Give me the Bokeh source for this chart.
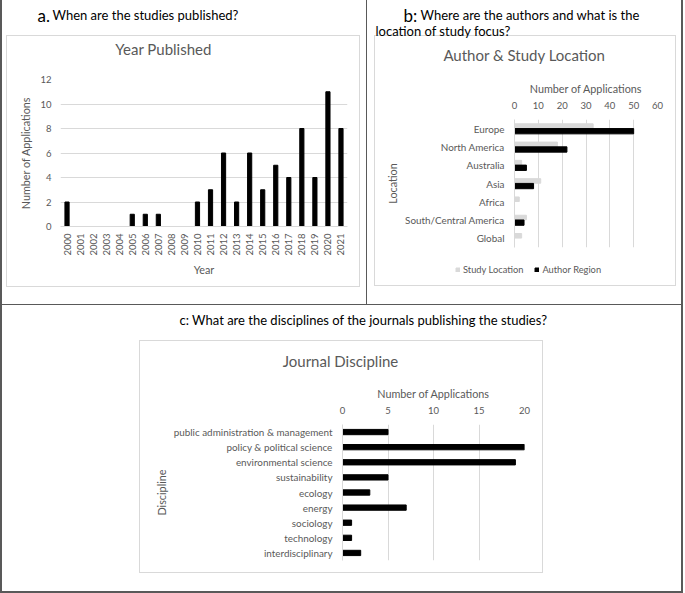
import math
from bokeh.plotting import figure
from bokeh.models import (FactorRange, Range1d, Legend, LegendItem,
                          SingleIntervalTicker, ColumnDataSource)
from bokeh.transform import dodge
from bokeh.layouts import column, row
from bokeh.core.properties import value
from bokeh.embed import file_html
from bokeh.resources import INLINE

# ---------------- data ----------------
years = ["2000", "2001", "2002", "2003", "2004", "2005", "2006", "2007", "2008", "2009", "2010",
         "2011", "2012", "2013", "2014", "2015", "2016", "2017", "2018", "2019", "2020", "2021"]
year_counts = [2, 0, 0, 0, 0, 1, 1, 1, 0, 0, 2, 3, 6, 2, 6, 3, 5, 4, 8, 4, 11, 8]

locations = ["Europe", "North America", "Australia", "Asia", "Africa",
             "South/Central America", "Global"]
study_location = [33, 18, 3, 11, 2, 5, 3]
author_region = [50, 22, 5, 8, 0, 4, 0]

disciplines = ["public administration & management", "policy & political science",
               "environmental science", "sustainability", "ecology", "energy",
               "sociology", "technology", "interdisciplinary"]
discipline_counts = [5, 20, 19, 5, 3, 7, 1, 1, 2]

# ---------------- style ----------------
FONT = "Lato"
GRAY = "#595959"
GRID = "#d9d9d9"
BORDER = "#595959"
TICK_FS = "9.5px"
CAT_FS = "9.9px"
AXT_FS = "10.8px"
TITLE_FS = "15px"
HEAD_FS = "13px"
BIG_FS = "17px"


def header_fig(w, h):
    p = figure(width=w, height=h, x_range=Range1d(0, w), y_range=Range1d(h, 0),
               x_axis_type=None, y_axis_type=None, output_backend="svg",
               toolbar_location=None, min_border=0, frame_align=False)
    p.outline_line_color = None
    p.border_fill_color = None
    p.background_fill_color = None
    p.title.text = ""
    return p


def htext(p, x, y, text, size, color="black", align="left", baseline="alphabetic"):
    p.text(x=[x], y=[y], text=[text], text_font=value(FONT), text_font_size=value(size),
           text_color=color, text_align=align, text_baseline=baseline)


def base_style(p):
    p.outline_line_color = None
    p.background_fill_color = None
    p.border_fill_color = None
    for ax in p.axis:
        ax.major_tick_line_color = None
        ax.minor_tick_line_color = None
        ax.major_tick_out = 0
        ax.major_tick_in = 0
        ax.minor_tick_out = 0
        ax.minor_tick_in = 0
        ax.major_label_text_font = FONT
        ax.major_label_text_font_size = TICK_FS
        ax.major_label_text_color = GRAY
        ax.axis_label_text_font = FONT
        ax.axis_label_text_font_size = AXT_FS
        ax.axis_label_text_font_style = "normal"
        ax.axis_label_text_color = GRAY


# ---------------- panel a ----------------
WA = 368
ha = header_fig(WA, 67)
htext(ha, 37, 15, "a.", BIG_FS)
htext(ha, 52, 14.5, "When are the studies published?", HEAD_FS)
htext(ha, 163, 48, "Year Published", TITLE_FS, GRAY, "center", "middle")

HA = 238
pa = figure(width=WA, height=HA, x_range=FactorRange(*years), y_range=Range1d(0, 12),
            output_backend="svg", toolbar_location=None, frame_align=False,
            min_border_left=60, min_border_right=WA - 347, min_border_top=12, min_border_bottom=79)
pa.vbar(x=years, top=year_counts, width=0.32, color="black")
base_style(pa)
pa.yaxis.ticker = SingleIntervalTicker(interval=2)
pa.yaxis.axis_line_color = None
pa.yaxis.axis_label = "Number of Applications"
pa.yaxis.major_label_standoff = 9
pa.yaxis.axis_label_standoff = 5
pa.xaxis.axis_line_color = GRID
pa.xaxis.major_label_orientation = math.pi / 2
pa.xaxis.major_label_standoff = 7
pa.xaxis.axis_label = "Year"
pa.xaxis.axis_label_standoff = 4
pa.xgrid.grid_line_color = None
pa.ygrid.grid_line_color = GRID

# ---------------- panel b ----------------
WB = 317
hb = header_fig(WB, 72)
htext(hb, 35, 15, "b:", BIG_FS)
htext(hb, 52, 14.5, "Where are the authors and what is the", HEAD_FS)
htext(hb, 7, 30.7, "location of study focus?", HEAD_FS)
htext(hb, 156, 54, "Author & Study Location", TITLE_FS, GRAY, "center", "middle")

HB = 183
pb = figure(width=WB, height=HB, y_range=FactorRange(*locations[::-1]), x_range=Range1d(0, 60),
            x_axis_location="above", output_backend="svg", toolbar_location=None, frame_align=False,
            min_border_left=146, min_border_right=WB - 289, min_border_top=47, min_border_bottom=8)
pb.hbar(y=dodge("loc", 0.14, range=pb.y_range), right="study", height=0.25,
        color=GRID, source=ColumnDataSource(dict(loc=locations, study=study_location)))
pb.hbar(y=dodge("loc", -0.14, range=pb.y_range), right="auth", height=0.29,
        color="black", source=ColumnDataSource(dict(loc=locations, auth=author_region)))
base_style(pb)
pb.xaxis.ticker = SingleIntervalTicker(interval=10)
pb.xaxis.axis_line_color = None
pb.xaxis.axis_label = "Number of Applications"
pb.xaxis.major_label_standoff = 11
pb.xaxis.axis_label_standoff = 4
pb.yaxis.axis_line_color = GRID
pb.yaxis.axis_label = "Location"
pb.yaxis.major_label_standoff = 10
pb.yaxis.axis_label_standoff = 3
pb.yaxis.major_label_text_font_size = CAT_FS
pb.ygrid.grid_line_color = None
pb.xgrid.grid_line_color = GRID

# legend strip for panel b (legend swatches use proxy renderers without visible data)
HL = 50
lf = figure(width=WB, height=HL, x_range=Range1d(0, WB), y_range=Range1d(0, HL),
            x_axis_type=None, y_axis_type=None, output_backend="svg",
            toolbar_location=None, min_border=0, frame_align=False)
lf.outline_line_color = None
lf.border_fill_color = None
lf.background_fill_color = None
lf.title.text = ""
nan = float("nan")
g_study = lf.rect(x=[nan], y=[nan], width=1, height=1, fill_color=GRID, line_color=GRID)
g_auth = lf.rect(x=[nan], y=[nan], width=1, height=1, fill_color="black", line_color="black")
legend = Legend(items=[LegendItem(label="Study Location", renderers=[g_study]),
                       LegendItem(label="Author Region", renderers=[g_auth])],
                location=(87, 30), orientation="horizontal", padding=0, margin=0,
                spacing=11, glyph_width=5, glyph_height=5, label_standoff=3,
                label_text_font=FONT, label_text_font_size="9.3px", label_text_color=GRAY,
                border_line_color=None, background_fill_alpha=0, label_height=12)
lf.add_layout(legend, "center")

# ---------------- panel c ----------------
WC = 685
hc = header_fig(WC, 67)
htext(hc, 179, 14.3, "c: What are the disciplines of the journals publishing the studies?", HEAD_FS)
htext(hc, 340, 55, "Journal Discipline", TITLE_FS, GRAY, "center", "middle")

HC = 221
pc = figure(width=WC, height=HC, y_range=FactorRange(*disciplines[::-1]), x_range=Range1d(0, 20),
            x_axis_location="above", output_backend="svg", toolbar_location=None, frame_align=False,
            min_border_left=342, min_border_right=WC - 524, min_border_top=52, min_border_bottom=33)
pc.hbar(y=disciplines, right=discipline_counts, height=0.35, color="black")
base_style(pc)
pc.xaxis.ticker = SingleIntervalTicker(interval=5)
pc.xaxis.axis_line_color = None
pc.xaxis.axis_label = "Number of Applications"
pc.xaxis.major_label_standoff = 11
pc.xaxis.axis_label_standoff = 4
pc.yaxis.axis_line_color = GRID
pc.yaxis.axis_label = "Discipline"
pc.yaxis.major_label_standoff = 10
pc.yaxis.axis_label_standoff = 3
pc.yaxis.major_label_text_font_size = CAT_FS
pc.ygrid.grid_line_color = None
pc.xgrid.grid_line_color = GRID

# ---------------- frame lines (page background) ----------------
# (left, top, width, height, colour) in page pixels
rects = [
    (0, 0, 2, 593, BORDER),        # outer left
    (366, 0, 1, 305, BORDER),      # divider a|b
    (0, 304, 683, 1, BORDER),      # divider top|bottom
    (681, 0, 2, 593, BORDER),      # outer right
    (0, 591, 683, 2, BORDER),      # outer bottom
]
for (l, t, r, b) in [(6, 35, 360, 287), (374, 35, 676, 286), (139, 340, 543, 573)]:
    rects += [(l, t, r - l, 1, GRID), (l, b - 1, r - l, 1, GRID),
              (l, t, 1, b - t, GRID), (r - 1, t, 1, b - t, GRID)]

bg_images = ", ".join(f"linear-gradient({c},{c})" for (_, _, _, _, c) in rects)
bg_pos = ", ".join(f"{l}px {t}px" for (l, t, _, _, _) in rects)
bg_size = ", ".join(f"{w}px {h}px" for (_, _, w, h, _) in rects)

layout = column(
    row(column(ha, pa, spacing=0), column(hb, pb, lf, spacing=0), spacing=0),
    hc, pc, spacing=0,
    styles={"background-color": "white", "background-image": bg_images,
            "background-position": bg_pos, "background-size": bg_size,
            "background-repeat": "no-repeat"})

with open("out.html", "w") as f:
    f.write(file_html(layout, INLINE))
